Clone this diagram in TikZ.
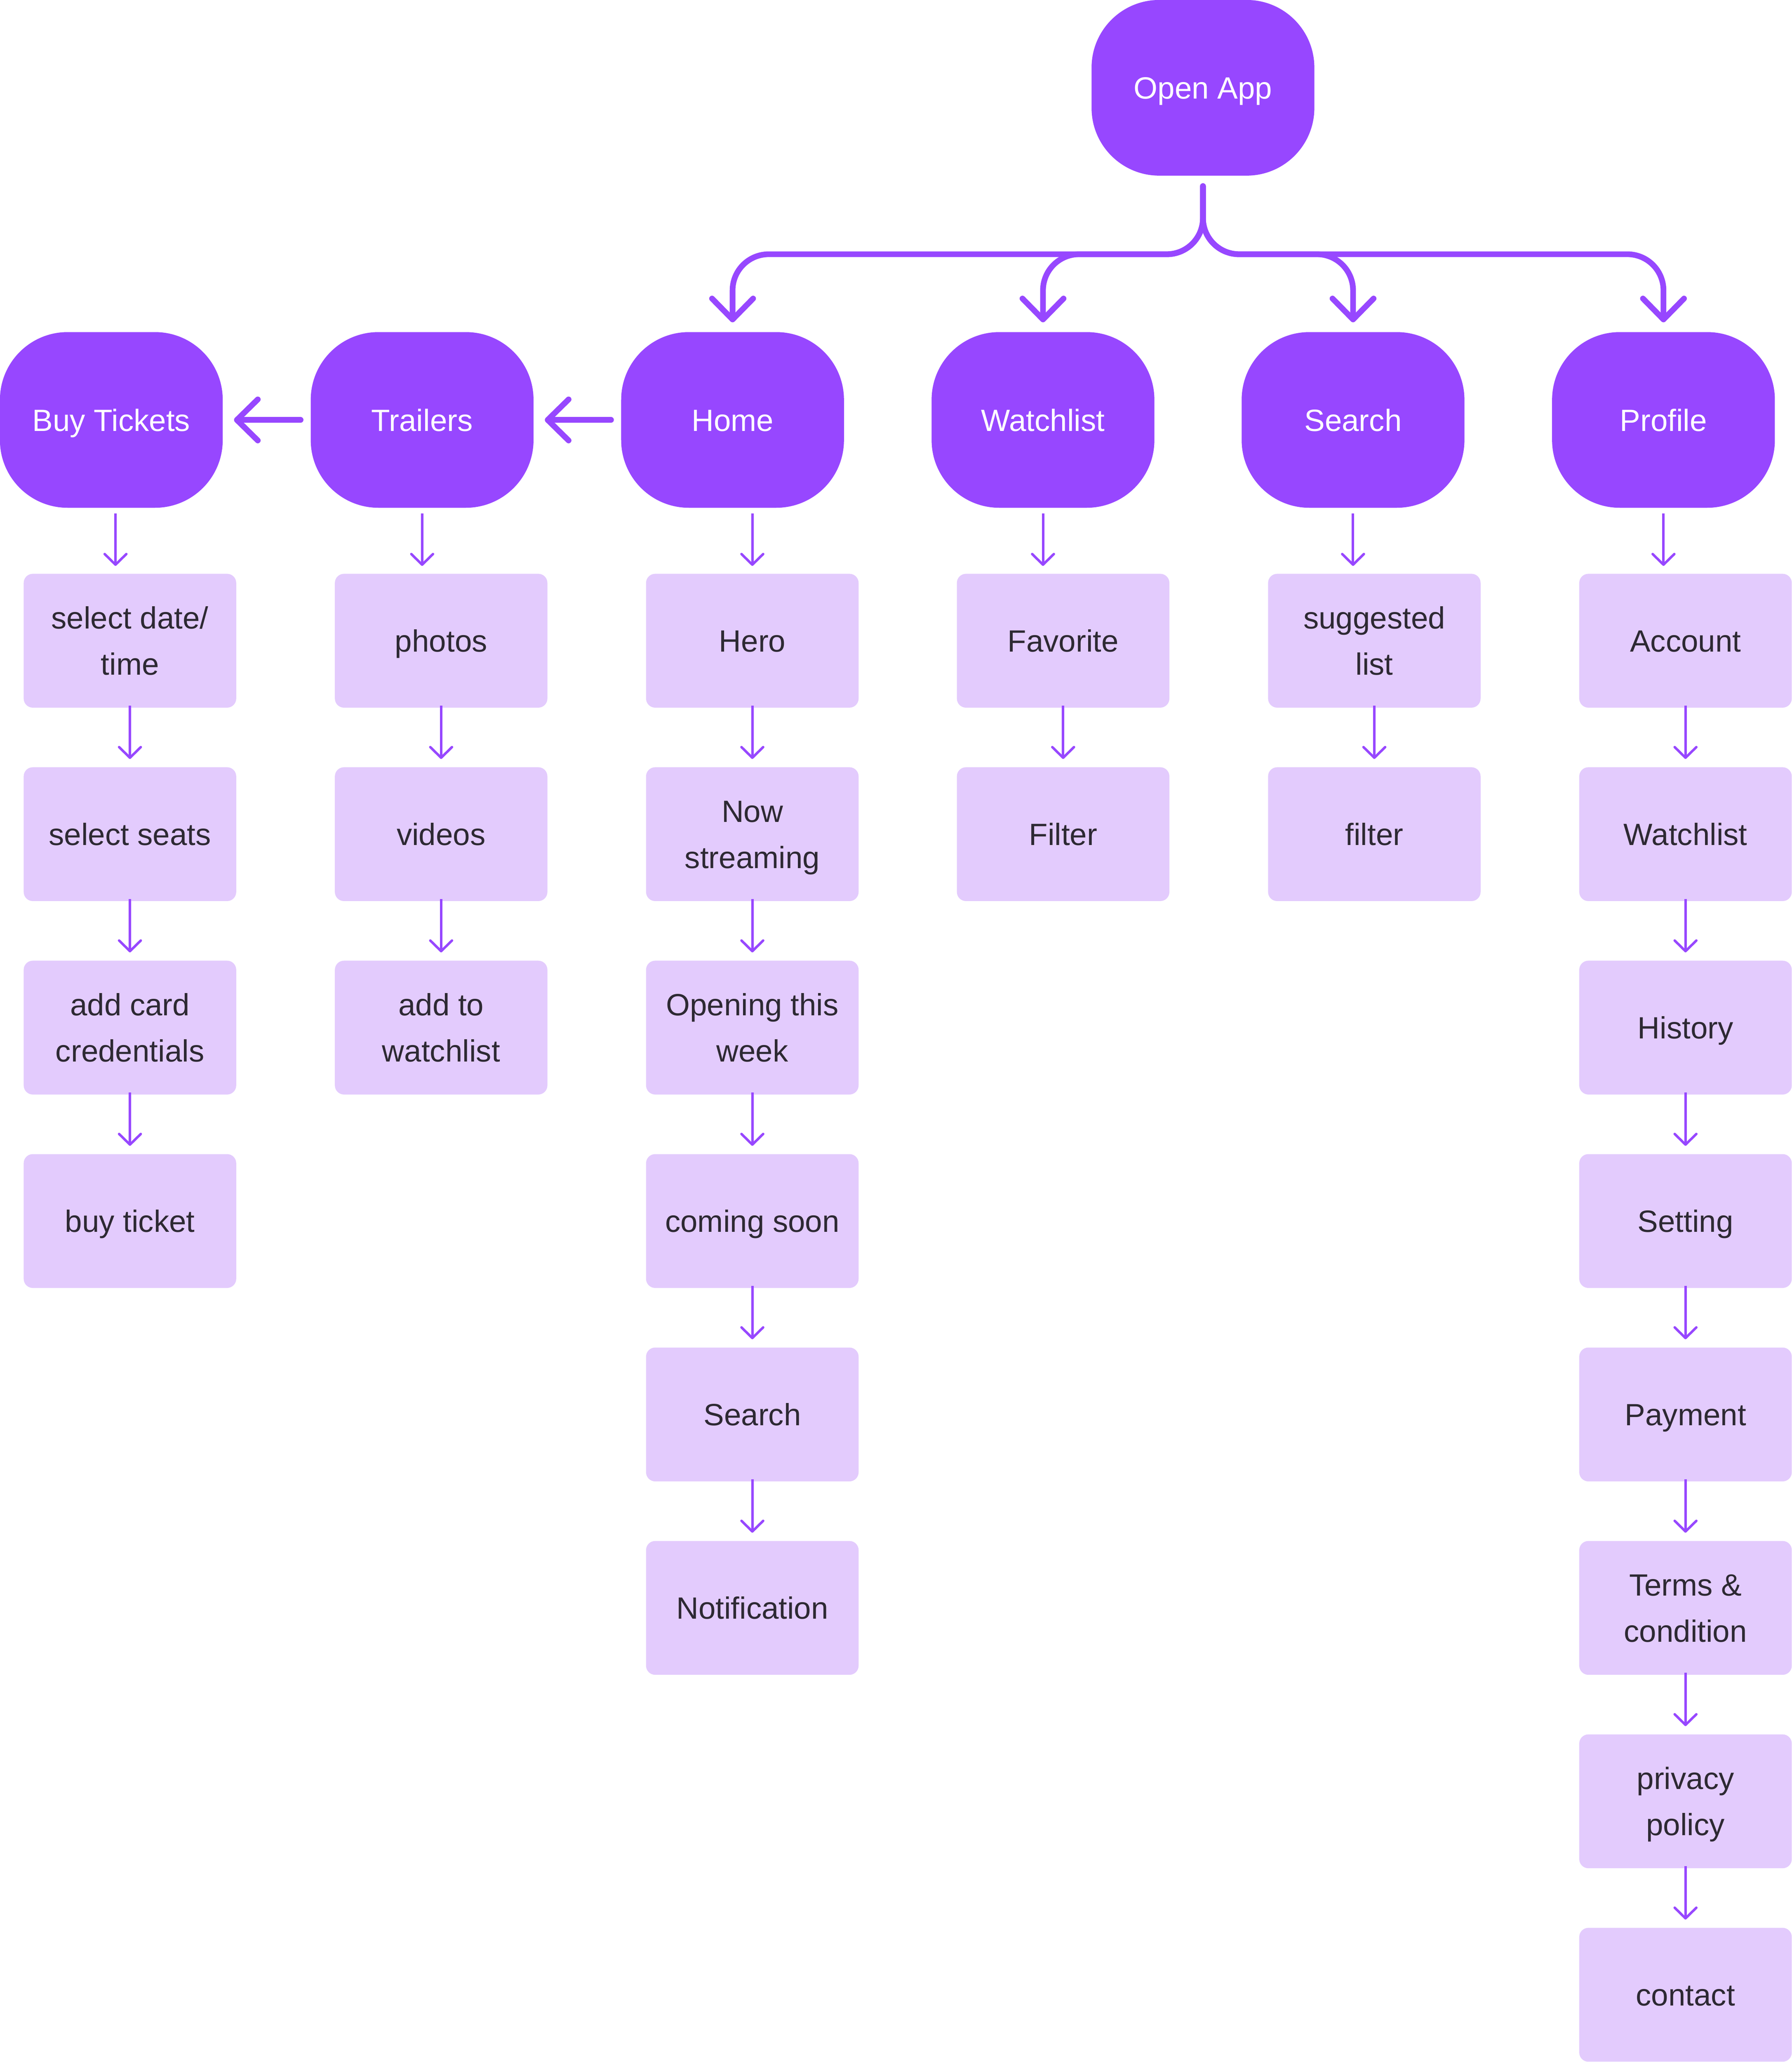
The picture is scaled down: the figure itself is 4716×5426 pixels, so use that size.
\documentclass[tikz,border=0pt]{standalone}
\usepackage{fontspec}
\setmainfont{Liberation Sans}
\usetikzlibrary{arrows.meta}
\definecolor{mainpurple}{HTML}{9747FF}
\definecolor{subfill}{HTML}{E3CBFD}
\definecolor{subtext}{HTML}{2D2933}
\begin{document}
\begin{tikzpicture}[x=0.01cm,y=-0.01cm,
  mainnode/.style={rectangle, rounded corners=1.78cm, fill=mainpurple, text=white,
    minimum width=5.86cm, minimum height=4.62cm, inner sep=0pt,
    text height=0.58cm, text depth=0cm, font=\fontsize{23}{34.4}\selectfont},
  subnode/.style={rectangle, rounded corners=0.24cm, fill=subfill, text=subtext,
    minimum width=5.59cm, minimum height=3.52cm, inner sep=0pt, align=center,
    text height=0.58cm, text depth=0cm, font=\fontsize{23}{34.4}\selectfont},
  twoline/.style={text height=1.789cm, text depth=0cm},
  bigarr/.style={draw=mainpurple, line width=0.15cm, line cap=round, line join=round,
    -{Straight Barb[length=0.55cm, width=1.08cm, round]}},
  smallarr/.style={draw=mainpurple, line width=0.065cm,
    -{Straight Barb[length=0.28cm, width=0.57cm, round]}},
  subarr/.style={smallarr, shorten <=-0.06cm, shorten >=0.21cm}]

\useasboundingbox (0,0) rectangle (4716,5426);

% main nodes
\node[mainnode] (open) at (3166,231) {Open App};
\node[mainnode] (bt) at (293,1105) {Buy Tickets};
\node[mainnode] (tr) at (1111,1105) {Trailers};
\node[mainnode] (home) at (1928,1105) {Home};
\node[mainnode] (wl) at (2745,1105) {Watchlist};
\node[mainnode] (se) at (3561,1105) {Search};
\node[mainnode] (pr) at (4378,1105) {Profile};

% Buy Tickets column
\node[subnode,twoline] (b1) at (342,1686) {select date/\\time};
\node[subnode] (b2) at (342,2195) {select seats};
\node[subnode,twoline] (b3) at (342,2704) {add card\\credentials};
\node[subnode] (b4) at (342,3213) {buy ticket};

% Trailers column
\node[subnode] (t1) at (1161,1686) {photos};
\node[subnode] (t2) at (1161,2195) {videos};
\node[subnode,twoline] (t3) at (1161,2704) {add to\\watchlist};

% Home column
\node[subnode] (h1) at (1980,1686) {Hero};
\node[subnode,twoline] (h2) at (1980,2195) {Now\\streaming};
\node[subnode,twoline] (h3) at (1980,2704) {Opening this\\week};
\node[subnode] (h4) at (1980,3213) {coming soon};
\node[subnode] (h5) at (1980,3722) {Search};
\node[subnode] (h6) at (1980,4231) {Notification};

% Watchlist column
\node[subnode] (w1) at (2798,1686) {Favorite};
\node[subnode] (w2) at (2798,2195) {Filter};

% Search column
\node[subnode,twoline] (s1) at (3617,1686) {suggested\\list};
\node[subnode] (s2) at (3617,2195) {filter};

% Profile column
\node[subnode] (p1) at (4436,1686) {Account};
\node[subnode] (p2) at (4436,2195) {Watchlist};
\node[subnode] (p3) at (4436,2704) {History};
\node[subnode] (p4) at (4436,3213) {Setting};
\node[subnode] (p5) at (4436,3722) {Payment};
\node[subnode,twoline] (p6) at (4436,4231) {Terms \&\\condition};
\node[subnode,twoline] (p7) at (4436,4740) {privacy\\policy};
\node[subnode] (p8) at (4436,5249) {contact};

% branching from Open App
\coordinate (split) at (3166,669);
\draw[bigarr, rounded corners=0.95cm, shorten <=0.27cm] (open.south) -- (split) -- (split -| home.north) -- ([yshift=0.25cm]home.north);
\draw[bigarr, rounded corners=0.95cm, shorten <=0.27cm] (open.south) -- (split) -- (split -| wl.north) -- ([yshift=0.25cm]wl.north);
\draw[bigarr, rounded corners=0.95cm, shorten <=0.27cm] (open.south) -- (split) -- (split -| se.north) -- ([yshift=0.25cm]se.north);
\draw[bigarr, rounded corners=0.95cm, shorten <=0.27cm] (open.south) -- (split) -- (split -| pr.north) -- ([yshift=0.25cm]pr.north);

% horizontal arrows
\draw[bigarr, shorten <=0.26cm, shorten >=0.29cm] (home.west) -- (tr.east);
\draw[bigarr, shorten <=0.26cm, shorten >=0.29cm] (tr.west) -- (bt.east);

% main to first sub
\draw[smallarr] ([xshift=0.11cm,yshift=-0.14cm]bt.south) -- ([xshift=0.11cm,yshift=0.2cm]bt.south |- b1.north);
\draw[smallarr] ([yshift=-0.14cm]tr.south) -- ([yshift=0.2cm]tr.south |- t1.north);
\draw[smallarr] ([yshift=-0.14cm]home.south -| h1.north) -- ([yshift=0.2cm]h1.north);
\draw[smallarr] ([yshift=-0.14cm]wl.south) -- ([yshift=0.2cm]wl.south |- w1.north);
\draw[smallarr] ([yshift=-0.14cm]se.south) -- ([yshift=0.2cm]se.south |- s1.north);
\draw[smallarr] ([yshift=-0.14cm]pr.south) -- ([yshift=0.2cm]pr.south |- p1.north);

% sub to sub
\draw[subarr] (b1.south) -- (b2.north);
\draw[subarr] (b2.south) -- (b3.north);
\draw[subarr] (b3.south) -- (b4.north);
\draw[subarr] (t1.south) -- (t2.north);
\draw[subarr] (t2.south) -- (t3.north);
\draw[subarr] (h1.south) -- (h2.north);
\draw[subarr] (h2.south) -- (h3.north);
\draw[subarr] (h3.south) -- (h4.north);
\draw[subarr] (h4.south) -- (h5.north);
\draw[subarr] (h5.south) -- (h6.north);
\draw[subarr] (w1.south) -- (w2.north);
\draw[subarr] (s1.south) -- (s2.north);
\draw[subarr] (p1.south) -- (p2.north);
\draw[subarr] (p2.south) -- (p3.north);
\draw[subarr] (p3.south) -- (p4.north);
\draw[subarr] (p4.south) -- (p5.north);
\draw[subarr] (p5.south) -- (p6.north);
\draw[subarr] (p6.south) -- (p7.north);
\draw[subarr] (p7.south) -- (p8.north);

\end{tikzpicture}
\end{document}
